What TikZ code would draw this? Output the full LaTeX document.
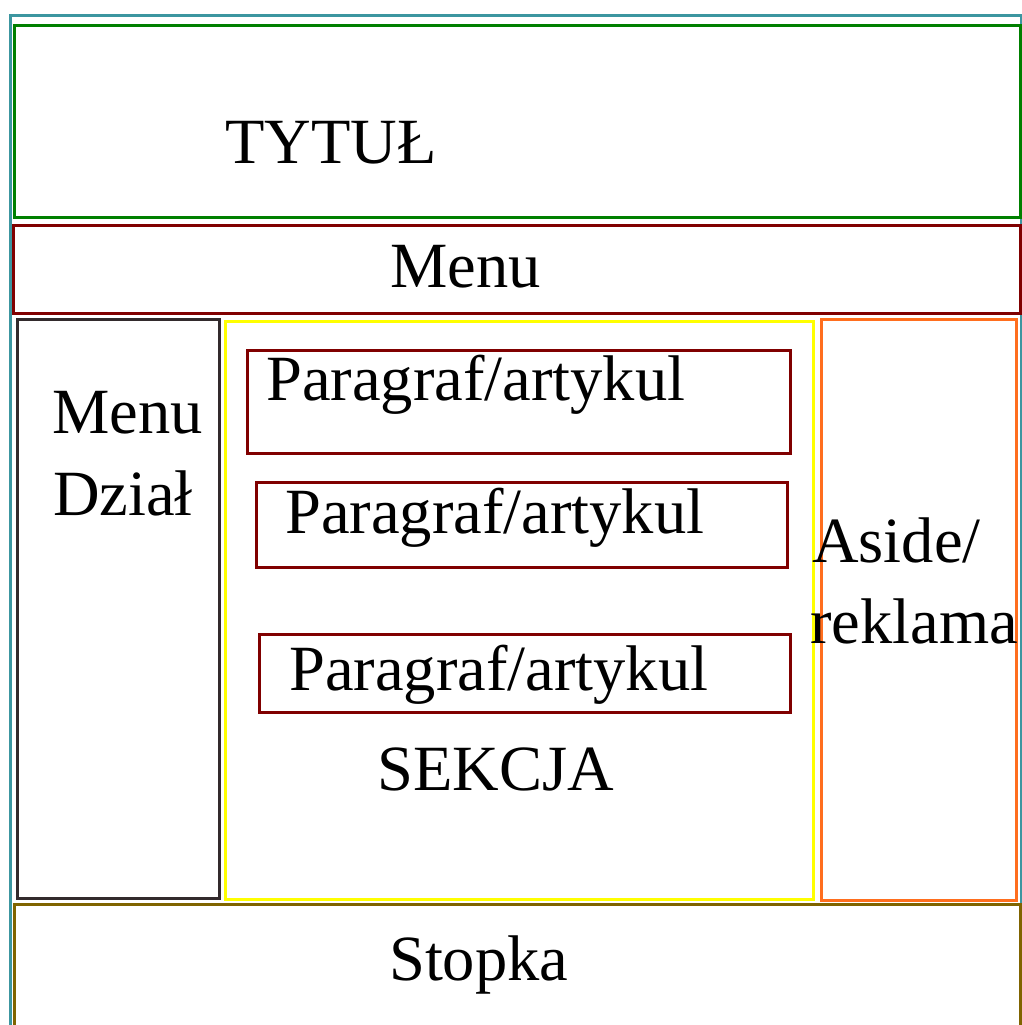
\documentclass[tikz,border=0pt]{standalone}
\usepackage{fontspec}
\setmainfont{Liberation Serif}
\definecolor{cteal}{RGB}{60,150,160}
\definecolor{cgreen}{RGB}{0,128,0}
\definecolor{cdred}{RGB}{128,0,0}
\definecolor{cgray}{RGB}{50,42,44}
\definecolor{cyel}{RGB}{255,255,0}
\definecolor{corange}{RGB}{255,110,30}
\definecolor{colive}{RGB}{128,100,0}
\tikzset{
  box/.style={draw=#1, line width=3.4pt, inner sep=0pt, anchor=north west, rectangle},
  lbl/.style={anchor=base west, inner sep=0pt, font=\fontsize{64.5}{75}\selectfont},
}
\newcommand{\bx}[6]{\node[box=#1, minimum width=#4pt, minimum height=#5pt] (#6) at (#2,#3) {};}
\begin{document}
\begin{tikzpicture}[x=1pt,y=-1pt]
\useasboundingbox (0,0) rectangle (1021,1025);
\fill[white] (0,0) rectangle (1021,1025);
\bx{cteal}{9}{14}{1011}{1020}{outer}
\bx{cgreen}{13}{24}{1006}{192}{title}
\bx{cdred}{12}{224}{1007}{88}{menu}
\bx{cgray}{16}{318}{202}{579}{nav}
\bx{cyel}{224}{320}{588}{578}{sect}
\bx{corange}{820}{318}{195}{581}{aside}
\bx{colive}{13}{903}{1006}{125}{foot}
\bx{cdred}{246}{349}{543}{103}{p1}
\bx{cdred}{255}{481}{531}{85}{p2}
\bx{cdred}{258}{633}{531}{78}{p3}
\node[lbl] (t1) at (225,163) {TYTUŁ};
\node[lbl] (t2) at (390,287) {Menu};
\node[lbl] (t3) at (52,433) {Menu};
\node[lbl] (t4) at (53,515) {Dział};
\node[lbl] (t5) at (266,400) {Paragraf/artykul};
\node[lbl] (t6) at (285,533) {Paragraf/artykul};
\node[lbl] (t7) at (289,690) {Paragraf/artykul};
\node[lbl] (t8) at (377,790) {SEKCJA};
\node[lbl] (t9) at (812,562) {Aside/};
\node[lbl] (t10) at (810,643) {reklama};
\node[lbl] (t11) at (389,980) {Stopka};
\end{tikzpicture}
\end{document}
